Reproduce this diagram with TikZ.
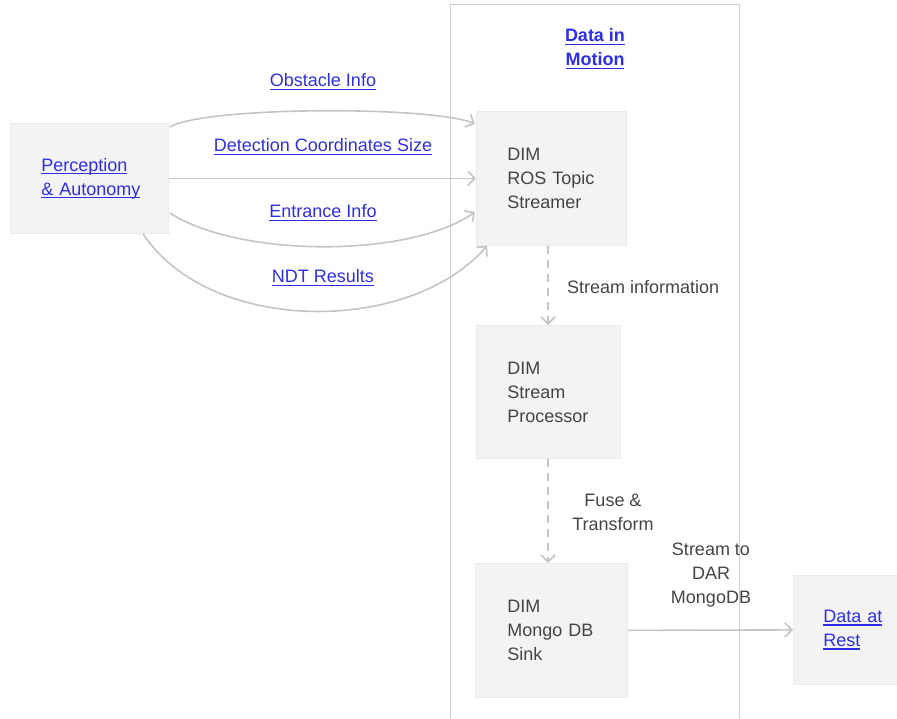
\documentclass[tikz,border=0pt]{standalone}
\usepackage{fontspec}
\setmainfont{Liberation Sans}
\usetikzlibrary{arrows.meta,calc}
\definecolor{boxfill}{HTML}{F3F3F3}
\definecolor{boxline}{HTML}{EBEBEB}
\definecolor{connc}{HTML}{C4C4C4}
\definecolor{lnk}{HTML}{2E2EE8}
\definecolor{txt}{HTML}{444444}
\definecolor{framec}{HTML}{CFCFCF}
\newsavebox\lnkbox
\newcommand\lnkt[1]{\leavevmode{\color{lnk}\sbox\lnkbox{#1}\rlap{\rule[-3.2pt]{\wd\lnkbox}{1.2pt}}\usebox\lnkbox}}
\begin{document}
\begin{tikzpicture}[x=1pt,y=-1pt,
  every node/.style={font=\fontsize{18}{24}\selectfont, text=txt, inner sep=0pt},
  blk/.style={fill=boxfill, draw=boxline, line width=0.8pt, align=left, anchor=north west},
  conn/.style={draw=connc, line width=1.6pt, -{Straight Barb[length=7pt,width=14pt,line width=1.6pt]}},
  dconn/.style={conn, dash pattern=on 8pt off 6pt},
  lbl/.style={align=center}]
\useasboundingbox (0,0) rectangle (897,719);
% frame
\draw[framec, line width=1pt] (450,725) -- (450,5) -- (739,5) -- (739,725);
\node[lbl, font=\fontsize{18}{24}\selectfont\bfseries] (dim) at (595,49) {\lnkt{Data in}\\\lnkt{Motion}};
% blocks
\node[blk, inner xsep=31pt, text width=96pt, minimum height=110pt] (pa) at (10,123) {\lnkt{Perception}\\\lnkt{\& Autonomy}};
\node[blk, inner xsep=31pt, text width=88pt, minimum height=134pt] (ros) at (476,111) {DIM\\ROS Topic\\Streamer};
\node[blk, inner xsep=31pt, text width=82pt, minimum height=133pt] (sp) at (476,325) {DIM\\Stream\\Processor};
\node[blk, inner xsep=32pt, text width=88pt, minimum height=134pt] (mg) at (475,563) {DIM\\Mongo DB\\Sink};
\node[blk, inner xsep=30pt, text width=44pt, minimum height=109pt] (dar) at (793,575) {\lnkt{Data at}\\\lnkt{Rest}};
% connectors from perception
\draw[conn] ($(pa.north east)+(1,4)$) .. controls (205,106) and (435,106) .. ($(ros.north west)+(-1,13)$);
\draw[conn] (pa.east) -- (ros.west);
\draw[conn] ($(pa.north east)+(1,90)$) .. controls (240,258) and (410,258) .. ($(ros.north west)+(-1,101)$);
\draw[conn] ($(pa.south west)+(133,0)$) .. controls (210,335) and (410,335) .. ($(ros.south west)+(11,0)$);
\node (l1) at (323,82) {\lnkt{Obstacle Info}};
\node (l2) at (323,147) {\lnkt{Detection Coordinates Size}};
\node (l3) at (323,213) {\lnkt{Entrance Info}};
\node (l4) at (323,278) {\lnkt{NDT Results}};
% vertical flow
\draw[dconn] ($(ros.south west)+(72,0)$) -- ($(sp.north west)+(72,0)$);
\draw[dconn] ($(sp.south west)+(72,0)$) -- ($(mg.north west)+(73,0)$);
\draw[conn] (mg.east) -- (dar.west);
\node[anchor=west] (s1) at (567,287) {Stream information};
\node[lbl] (s2) at (613,512) {Fuse \&\\Transform};
\node[lbl] (s3) at (711,575) {Stream to\\DAR\\MongoDB};
\end{tikzpicture}
\end{document}
